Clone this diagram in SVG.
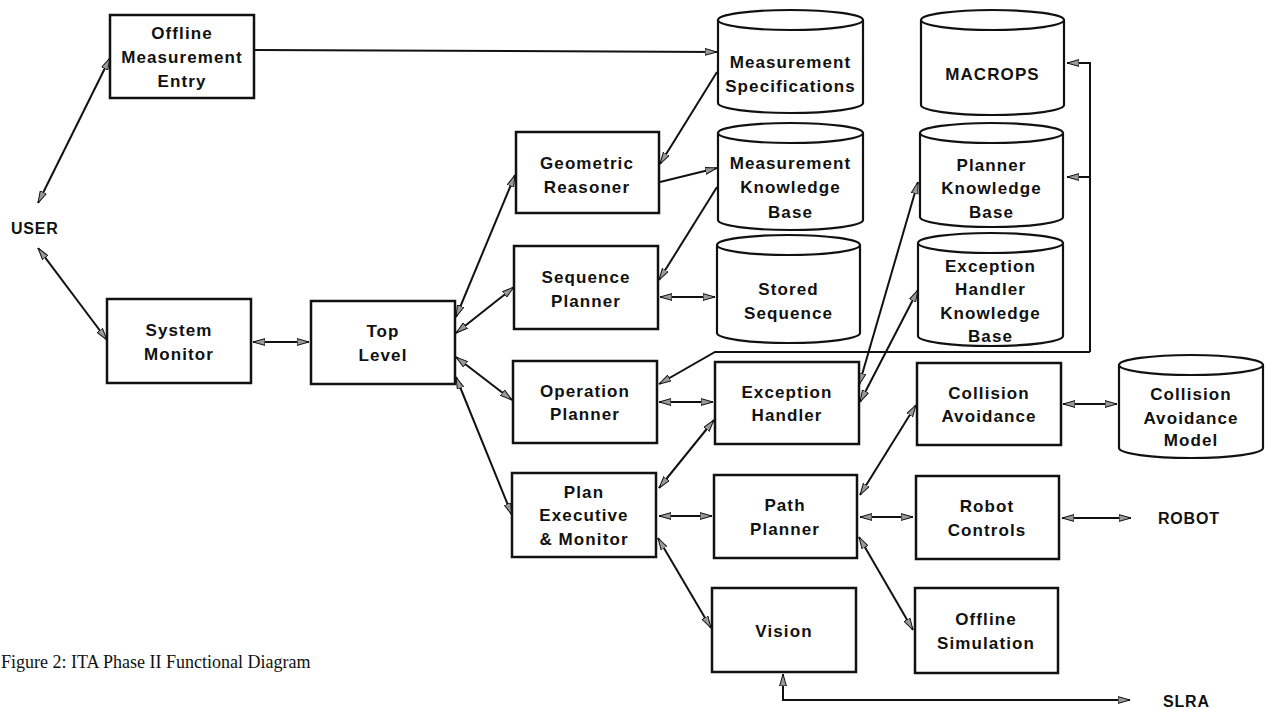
<svg xmlns="http://www.w3.org/2000/svg" width="1267" height="709" viewBox="0 0 1267 709">
<style>
.box{fill:#fff;stroke:#111;stroke-width:2.5}
.cyl{fill:#fff;stroke:#111;stroke-width:2.2}
.lbl{font-family:"Liberation Sans",Arial,sans-serif;font-weight:bold;font-size:17px;letter-spacing:1.1px;fill:#111;text-anchor:middle}
.ext{font-family:"Liberation Sans",Arial,sans-serif;font-weight:bold;font-size:16px;letter-spacing:0.8px;fill:#111}
.cap{font-family:"Liberation Serif","Times New Roman",serif;font-size:18px;fill:#111}
.c{fill:none;stroke:#111;stroke-width:2}
.b{marker-start:url(#ah);marker-end:url(#ah)}
.e{marker-end:url(#ah)}
</style>
<defs>
<marker id="ah" viewBox="0 0 12 8" refX="12" refY="4" markerWidth="12" markerHeight="8" markerUnits="userSpaceOnUse" orient="auto-start-reverse">
<path d="M0,0.6 L12,4 L0,7.4 Z" fill="#999" stroke="#111" stroke-width="1"/>
</marker>
</defs>
<rect width="1267" height="709" fill="#fff"/>

<g id="connectors">
<line class="c b" x1="38" y1="203" x2="110" y2="58"/>
<line class="c e" x1="254" y1="50" x2="717" y2="52"/>
<line class="c e" x1="717" y1="72" x2="660" y2="164"/>
<line class="c e" x1="660" y1="182" x2="717" y2="168"/>
<line class="c e" x1="717" y1="187" x2="659" y2="280"/>
<line class="c b" x1="660" y1="297" x2="715" y2="297"/>
<line class="c b" x1="456" y1="317" x2="515" y2="175"/>
<line class="c b" x1="456" y1="333" x2="514" y2="287"/>
<line class="c b" x1="456" y1="357" x2="512" y2="400"/>
<line class="c b" x1="456" y1="377" x2="512" y2="515"/>
<line class="c b" x1="253" y1="342" x2="309" y2="342"/>
<line class="c b" x1="38" y1="248" x2="107" y2="340"/>
<line class="c b" x1="659" y1="402" x2="713" y2="402"/>
<path class="c e" d="M1090,352 L1090,63 L1067,63"/>
<path class="c e" d="M1090,177 L1067,177"/>
<path class="c e" d="M1090,352 L715,352 L659,384"/>
<line class="c b" x1="859" y1="385" x2="918" y2="182"/>
<line class="c b" x1="860" y1="402" x2="918" y2="290"/>
<line class="c b" x1="659" y1="488" x2="714" y2="420"/>
<line class="c b" x1="659" y1="516" x2="712" y2="516"/>
<line class="c b" x1="658" y1="538" x2="711" y2="628"/>
<line class="c b" x1="860" y1="495" x2="916" y2="405"/>
<line class="c b" x1="860" y1="517" x2="913" y2="517"/>
<line class="c b" x1="859" y1="537" x2="913" y2="630"/>
<line class="c b" x1="1063" y1="404" x2="1117" y2="404"/>
<line class="c b" x1="1062" y1="518" x2="1131" y2="518"/>
<path class="c b" d="M783,674 L783,700 L1130,700"/>
</g>

<g id="offline-entry"><rect class="box" x="110" y="15" width="144" height="83"/>
<text class="lbl" x="182" y="39">Offline</text><text class="lbl" x="182" y="63">Measurement</text><text class="lbl" x="182" y="87">Entry</text></g>

<g id="user"><text class="ext" x="11" y="234">USER</text></g>

<g id="system-monitor"><rect class="box" x="107" y="299" width="144" height="84"/>
<text class="lbl" x="179" y="336">System</text><text class="lbl" x="179" y="360">Monitor</text></g>

<g id="top-level"><rect class="box" x="311" y="301" width="144" height="83"/>
<text class="lbl" x="383" y="337">Top</text><text class="lbl" x="383" y="361">Level</text></g>

<g id="geometric-reasoner"><rect class="box" x="516" y="132" width="143" height="81"/>
<text class="lbl" x="587" y="169">Geometric</text><text class="lbl" x="587" y="193">Reasoner</text></g>

<g id="sequence-planner"><rect class="box" x="514" y="246" width="144" height="83"/>
<text class="lbl" x="586" y="283">Sequence</text><text class="lbl" x="586" y="307">Planner</text></g>

<g id="operation-planner"><rect class="box" x="513" y="361" width="144" height="82"/>
<text class="lbl" x="585" y="397">Operation</text><text class="lbl" x="585" y="420">Planner</text></g>

<g id="plan-executive"><rect class="box" x="512" y="473" width="144" height="84"/>
<text class="lbl" x="584" y="498">Plan</text><text class="lbl" x="584" y="521">Executive</text><text class="lbl" x="584" y="545">&amp; Monitor</text></g>

<g id="exception-handler"><rect class="box" x="715" y="362" width="144" height="82"/>
<text class="lbl" x="787" y="398">Exception</text><text class="lbl" x="787" y="421">Handler</text></g>

<g id="path-planner"><rect class="box" x="714" y="475" width="143" height="83"/>
<text class="lbl" x="785" y="511">Path</text><text class="lbl" x="785" y="535">Planner</text></g>

<g id="vision"><rect class="box" x="712" y="588" width="144" height="84"/>
<text class="lbl" x="784" y="637">Vision</text></g>

<g id="collision-avoidance"><rect class="box" x="917" y="363" width="144" height="82"/>
<text class="lbl" x="989" y="399">Collision</text><text class="lbl" x="989" y="422">Avoidance</text></g>

<g id="robot-controls"><rect class="box" x="916" y="476" width="143" height="83"/>
<text class="lbl" x="987" y="512">Robot</text><text class="lbl" x="987" y="536">Controls</text></g>

<g id="offline-simulation"><rect class="box" x="915" y="588" width="143" height="85"/>
<text class="lbl" x="986" y="625">Offline</text><text class="lbl" x="986" y="649">Simulation</text></g>

<g id="measurement-specifications">
<path class="cyl" d="M718,20 L718,103 A72.5,10 0 0 0 863,103 L863,20"/>
<ellipse class="cyl" cx="790.5" cy="20" rx="72.5" ry="10"/>
<text class="lbl" x="790.5" y="68">Measurement</text><text class="lbl" x="790.5" y="92">Specifications</text></g>

<g id="measurement-kb">
<path class="cyl" d="M718,133 L718,220 A72.5,10 0 0 0 863,220 L863,133"/>
<ellipse class="cyl" cx="790.5" cy="133" rx="72.5" ry="10"/>
<text class="lbl" x="790.5" y="169">Measurement</text><text class="lbl" x="790.5" y="193">Knowledge</text><text class="lbl" x="790.5" y="218">Base</text></g>

<g id="stored-sequence">
<path class="cyl" d="M717,245 L717,333 A71.5,10 0 0 0 860,333 L860,245"/>
<ellipse class="cyl" cx="788.5" cy="245" rx="71.5" ry="10"/>
<text class="lbl" x="788.5" y="295">Stored</text><text class="lbl" x="788.5" y="319">Sequence</text></g>

<g id="macrops">
<path class="cyl" d="M921,20 L921,105 A71.5,10 0 0 0 1064,105 L1064,20"/>
<ellipse class="cyl" cx="992.5" cy="20" rx="71.5" ry="10"/>
<text class="lbl" x="992.5" y="80">MACROPS</text></g>

<g id="planner-kb">
<path class="cyl" d="M920,133 L920,217 A71.5,10 0 0 0 1063,217 L1063,133"/>
<ellipse class="cyl" cx="991.5" cy="133" rx="71.5" ry="10"/>
<text class="lbl" x="991.5" y="171">Planner</text><text class="lbl" x="991.5" y="194">Knowledge</text><text class="lbl" x="991.5" y="218">Base</text></g>

<g id="exception-handler-kb">
<path class="cyl" d="M918,243 L918,336 A72.5,10 0 0 0 1063,336 L1063,243"/>
<ellipse class="cyl" cx="990.5" cy="243" rx="72.5" ry="10"/>
<text class="lbl" x="990.5" y="272">Exception</text><text class="lbl" x="990.5" y="295">Handler</text><text class="lbl" x="990.5" y="319">Knowledge</text><text class="lbl" x="990.5" y="342">Base</text></g>

<g id="collision-avoidance-model">
<path class="cyl" d="M1119,365 L1119,448 A72,10 0 0 0 1263,448 L1263,365"/>
<ellipse class="cyl" cx="1191" cy="365" rx="72" ry="10"/>
<text class="lbl" x="1191" y="400">Collision</text><text class="lbl" x="1191" y="424">Avoidance</text><text class="lbl" x="1191" y="446">Model</text></g>

<g id="robot"><text class="ext" x="1158" y="524">ROBOT</text></g>
<g id="slra"><text class="ext" x="1163" y="707">SLRA</text></g>

<g id="caption"><text class="cap" x="1" y="668">Figure 2: ITA Phase II Functional Diagram</text></g>
</svg>
